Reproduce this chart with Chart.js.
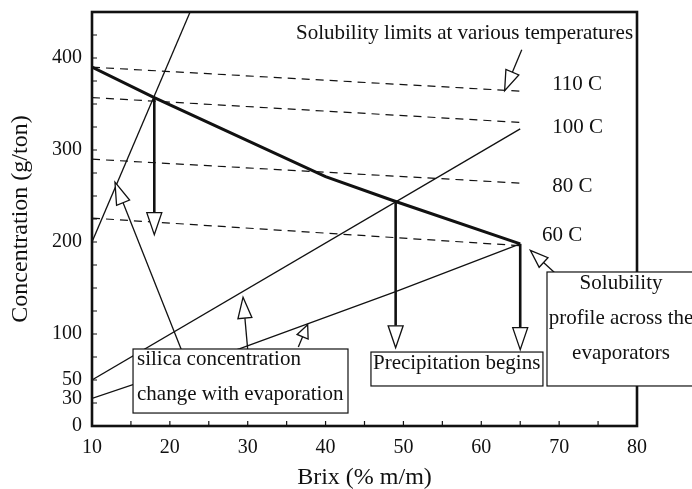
<!DOCTYPE html>
<html lang="en">
<head>
<meta charset="UTF-8">
<title>Silica solubility across the evaporators</title>
<script src="https://cdn.jsdelivr.net/npm/chart.js"></script>
<style>
    body { margin: 0; background: #fff; }
    #wrap { width: 692px; height: 489px; }
</style>
</head>
<body>
<div id="wrap"><canvas id="chart" width="692" height="489"></canvas></div>
<script>
// Solubility profile across the evaporators (thick line)
const profileBrix = [10, 18, 40, 49, 65];
const profileConc = [390, 357, 271, 244, 198];

// Solubility limits at various temperatures (dashed lines)
const limitBrix = [10, 65];
const limit110 = [390, 364];
const limit100 = [357, 330];
const limit80 = [290, 264];
const limit60 = [226, 196];
const tempLabels = ['110 C', '100 C', '80 C', '60 C'];

// Silica concentration change with evaporation (thin lines)
const steepBrix = [10, 22.6];
const steepConc = [200, 450];
const midBrix = [10, 65];
const midConc = [50, 323];
const lowBrix = [10, 29, 49, 65];
const lowConc = [30, 84, 146, 198];

// Points where precipitation begins, and where the drop arrows end
const precipBrix = [18, 49, 65];
const precipFrom = [357, 244, 198];
const precipTo = [208, 85, 83];

// Axis labels
const xTicks = [10, 20, 30, 40, 50, 60, 70, 80];
const yTicks = [0, 30, 50, 100, 200, 300, 400];

const INK = '#111';
const SERIF = '"Liberation Serif", "Times New Roman", serif';

const pts = (xs, ys) => xs.map((x, i) => ({ x: x, y: ys[i] }));
const line = (label, xs, ys, width, dash) => ({
    label: label,
    data: pts(xs, ys),
    borderColor: INK,
    borderWidth: width,
    borderDash: dash || [],
    pointRadius: 0,
    tension: 0,
    fill: false
});

function arrow(c, x1, y1, x2, y2, width, len, half) {
    const a = Math.atan2(y2 - y1, x2 - x1);
    const bx = x2 - len * Math.cos(a), by = y2 - len * Math.sin(a);
    c.lineWidth = width;
    c.beginPath(); c.moveTo(x1, y1); c.lineTo(bx, by); c.stroke();
    c.beginPath();
    c.moveTo(x2, y2);
    c.lineTo(bx - half * Math.sin(a), by + half * Math.cos(a));
    c.lineTo(bx + half * Math.sin(a), by - half * Math.cos(a));
    c.closePath();
    c.fillStyle = '#fff'; c.fill();
    c.lineWidth = 1.3; c.stroke();
}

// Frame, inward ticks, arrows and text boxes
const annotate = {
    id: 'annotate',
    afterDatasetsDraw(chart) {
        const c = chart.ctx, a = chart.chartArea;
        const sx = chart.scales.x, sy = chart.scales.y;
        const X = v => sx.getPixelForValue(v), Y = v => sy.getPixelForValue(v);
        c.save();
        c.strokeStyle = INK; c.fillStyle = INK; c.lineCap = 'butt';

        // inward tick marks
        c.lineWidth = 1.2;
        c.beginPath();
        for (let v = 15; v < 80; v += 5) { c.moveTo(X(v), a.bottom); c.lineTo(X(v), a.bottom - 5); }
        for (let v = 25; v < 450; v += 25) { c.moveTo(a.left, Y(v)); c.lineTo(a.left + 5, Y(v)); }
        c.stroke();

        // plot frame
        c.lineWidth = 2.6;
        c.strokeRect(a.left, a.top, a.right - a.left, a.bottom - a.top);

        // precipitation drop arrows
        precipBrix.forEach((b, i) => arrow(c, X(b), Y(precipFrom[i]), X(b), Y(precipTo[i]), 2.6, 22, 7.5));

        // pointer arrows
        arrow(c, X(21.9), Y(74), X(12.95), Y(265), 1.3, 22, 7);
        arrow(c, X(30), Y(83), X(29.4), Y(140), 1.3, 21, 7);
        arrow(c, X(36.5), Y(86), X(37.7), Y(110), 1.3, 13, 6);
        arrow(c, X(69.5), Y(166), X(66.3), Y(191), 1.3, 18, 6.5);
        arrow(c, X(65.2), Y(409), X(63.0), Y(364.5), 1.3, 20, 7);

        c.font = '21px ' + SERIF;
        c.textBaseline = 'middle';
        const box = (x1, y1, x2, y2) => {
            const l = X(x1), t = Y(y1), r = X(x2), btm = Y(y2);
            c.fillStyle = '#fff';
            c.fillRect(l, t, r - l, btm - t);
            c.lineWidth = 1.2;
            c.strokeRect(l, t, r - l, btm - t);
            c.fillStyle = INK;
            return { l: l, t: t, r: r, b: btm };
        };

        // silica concentration box
        let bx = box(15.27, 83.7, 42.88, 14.1);
        c.textAlign = 'left';
        c.fillText('silica concentration', bx.l + 4, bx.t + 10);
        c.fillText('change with evaporation', bx.l + 4, bx.t + 45);

        // precipitation begins box
        bx = box(45.83, 80.4, 67.92, 43.5);
        c.fillText('Precipitation begins', bx.l + 2, bx.t + 11);

        // solubility profile box
        bx = box(68.44, 167.4, 88.5, 43.5);
        c.textAlign = 'center';
        c.fillText('Solubility', X(77.95), bx.t + 11);
        c.fillText('profile across the', X(77.95), bx.t + 46);
        c.fillText('evaporators', X(77.95), bx.t + 81);

        // temperature labels
        c.textAlign = 'left';
        c.fillText(tempLabels[0], X(69.1), Y(371.7));
        c.fillText(tempLabels[1], X(69.1), Y(325));
        c.fillText(tempLabels[2], X(69.1), Y(259.8));
        c.fillText(tempLabels[3], X(67.8), Y(207.6));

        c.textAlign = 'right';
        c.fillText('Solubility limits at various temperatures', X(79.5), Y(427));
        c.restore();
    }
};

new Chart(document.getElementById('chart').getContext('2d'), {
    type: 'line',
    data: {
        datasets: [
            line('Solubility profile', profileBrix, profileConc, 3),
            line('110 C', limitBrix, limit110, 1.2, [8, 6]),
            line('100 C', limitBrix, limit100, 1.2, [8, 6]),
            line('80 C', limitBrix, limit80, 1.2, [8, 6]),
            line('60 C', limitBrix, limit60, 1.2, [8, 6]),
            line('Silica A', steepBrix, steepConc, 1.3),
            line('Silica B', midBrix, midConc, 1.3),
            line('Silica C', lowBrix, lowConc, 1.3)
        ]
    },
    options: {
        responsive: false,
        animation: false,
        layout: { padding: { left: 0, right: 55, top: 12, bottom: 0 } },
        plugins: { legend: { display: false }, tooltip: { enabled: false } },
        scales: {
            x: {
                type: 'linear', min: 10, max: 80,
                afterBuildTicks: s => { s.ticks = xTicks.map(v => ({ value: v })); },
                afterFit: s => { s.height = 63; s.paddingLeft = 0; s.paddingRight = 0; },
                grid: { display: false, drawTicks: false },
                border: { display: false },
                ticks: { font: { family: SERIF, size: 20 }, color: INK, padding: 10, maxRotation: 0, autoSkip: false },
                title: { display: true, text: 'Brix (% m/m)', color: INK,
                         font: { family: SERIF, size: 24, lineHeight: 0.9 }, padding: { top: 0, bottom: 0 } }
            },
            y: {
                type: 'linear', min: 0, max: 450,
                afterBuildTicks: s => { s.ticks = yTicks.map(v => ({ value: v })); },
                afterFit: s => { s.width = 92; s.paddingTop = 0; s.paddingBottom = 0; },
                grid: { display: false, drawTicks: false },
                border: { display: false },
                ticks: { font: { family: SERIF, size: 20 }, color: INK, padding: 10, autoSkip: false },
                title: { display: true, text: 'Concentration (g/ton)', color: INK,
                         font: { family: SERIF, size: 24 }, padding: { top: 6, bottom: 0 } }
            }
        }
    },
    plugins: [annotate]
});
</script>
</body>
</html>
